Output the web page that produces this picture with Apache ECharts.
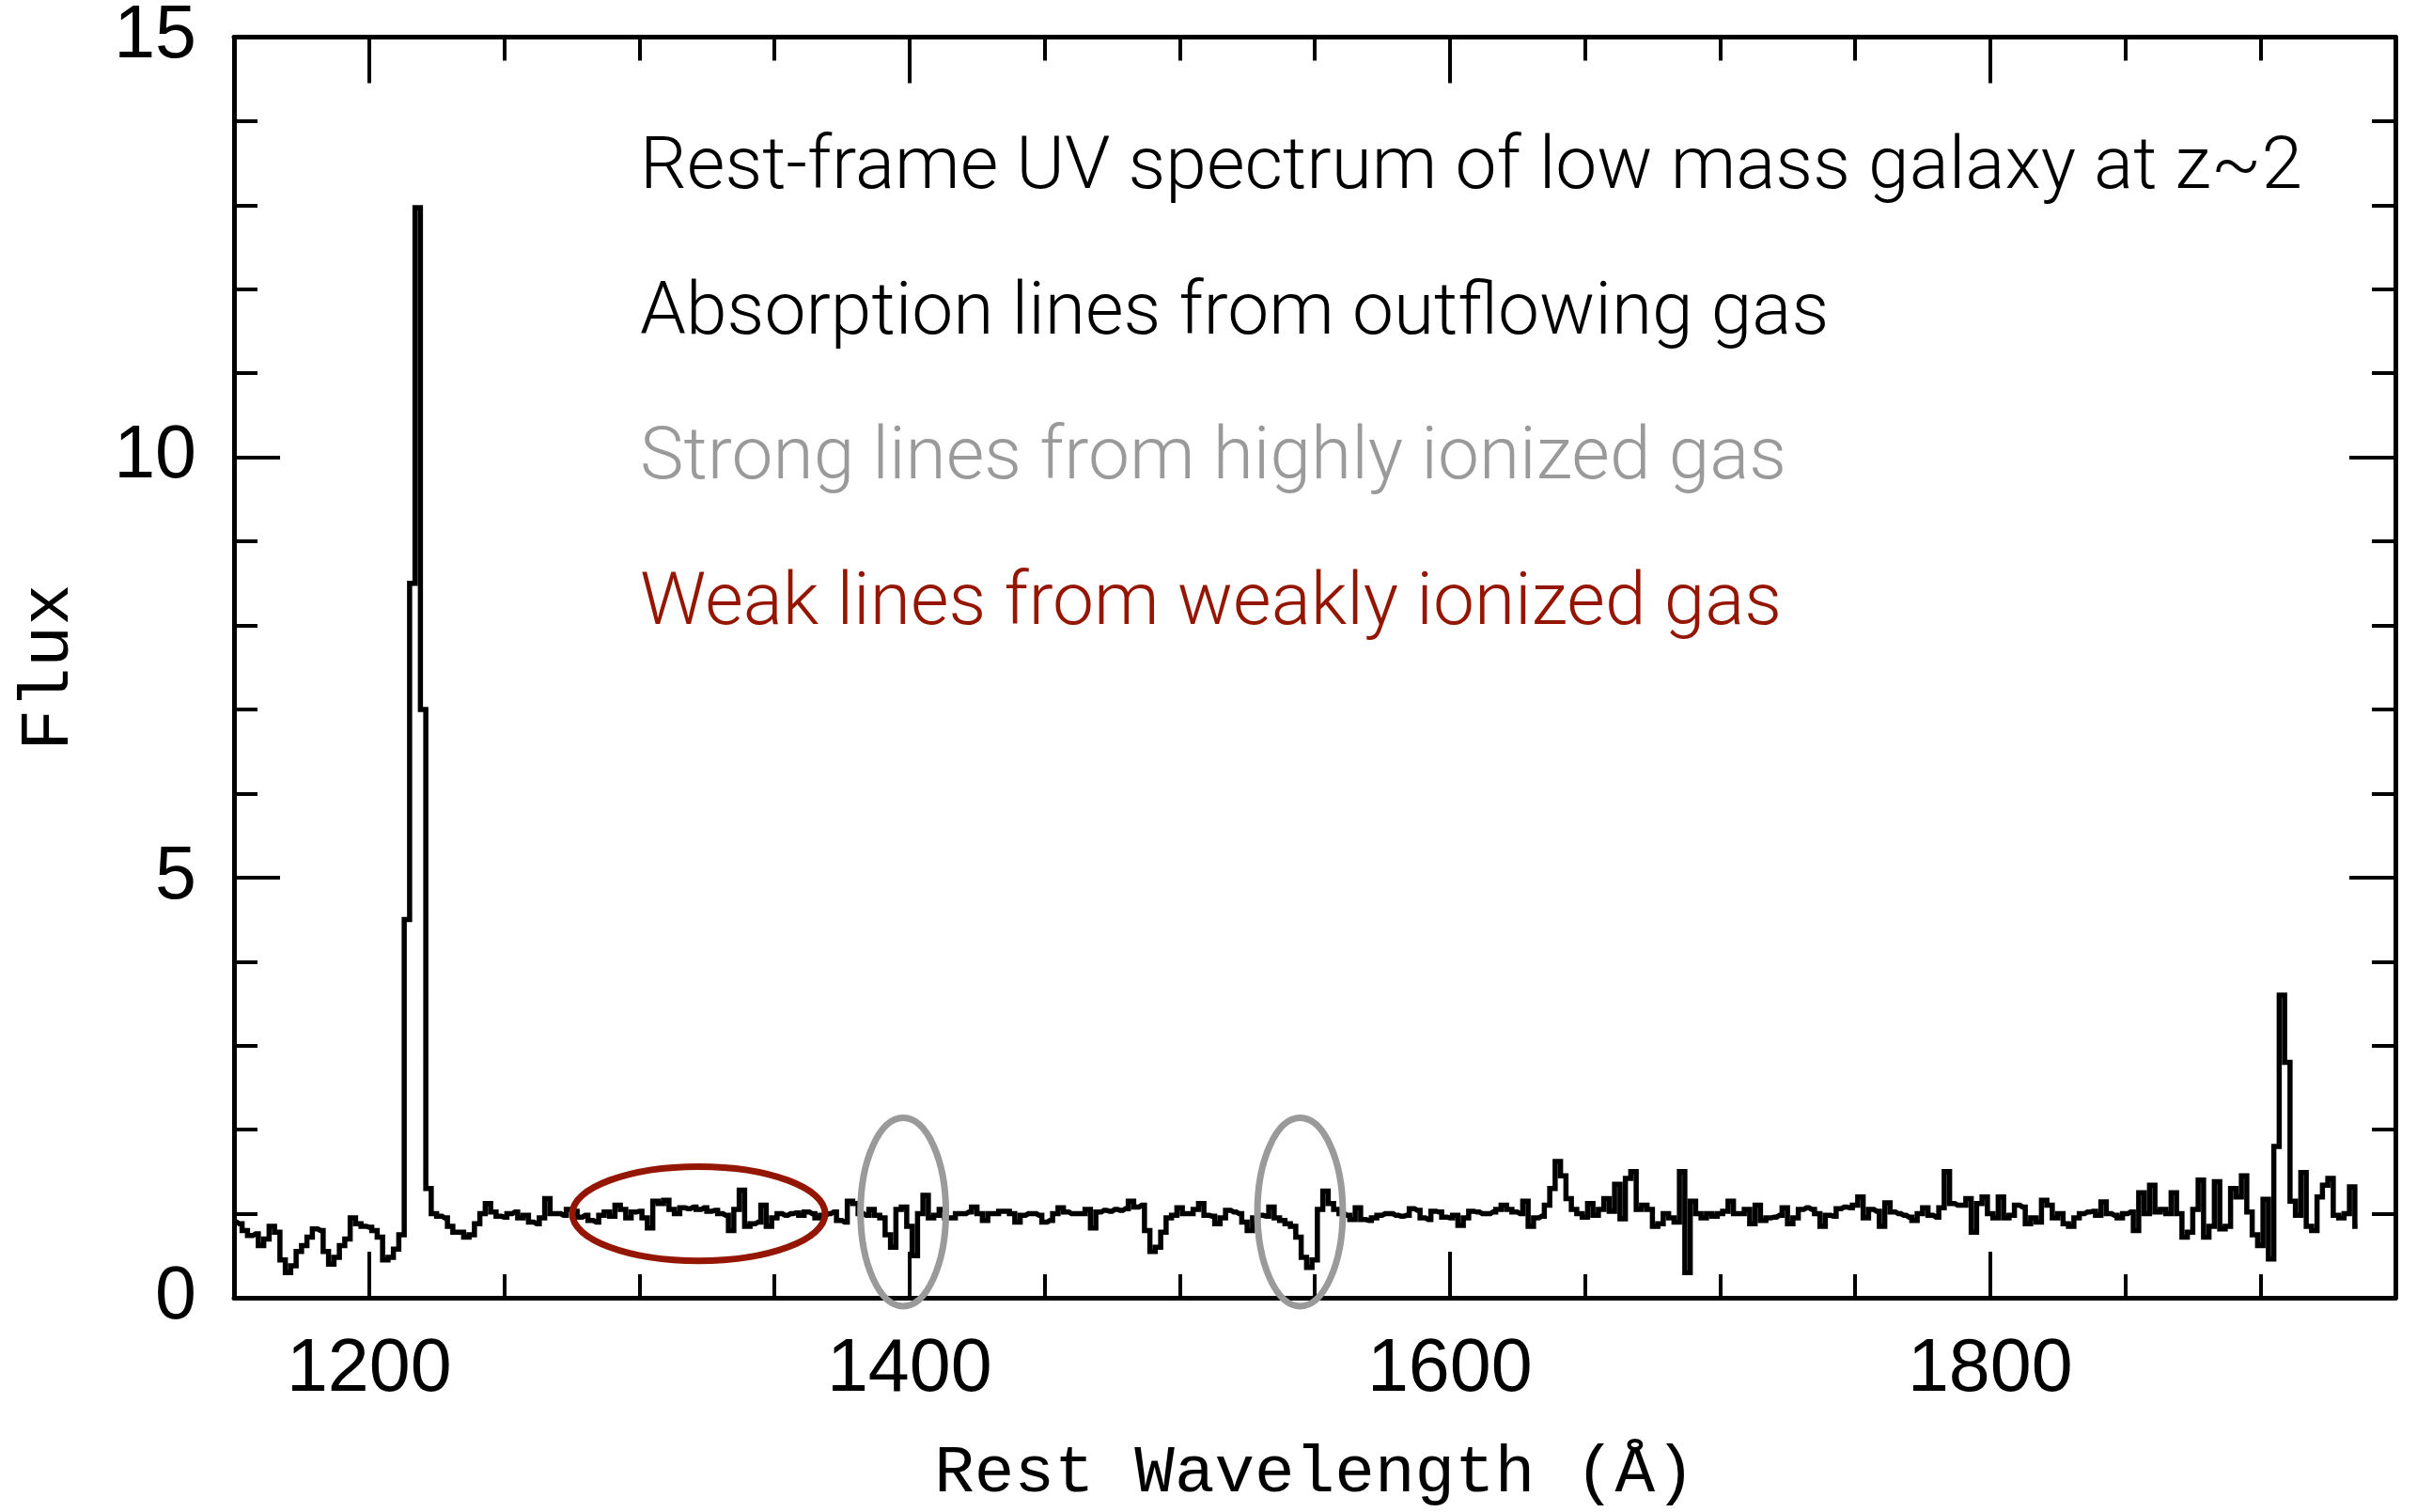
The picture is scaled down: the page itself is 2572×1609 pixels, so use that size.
<!DOCTYPE html>
<html>
<head>
<meta charset="utf-8">
<style>
html,body{margin:0;padding:0;background:#ffffff;}
#chart{width:2572px;height:1609px;}
</style>
<script src="https://cdn.jsdelivr.net/npm/echarts@6/dist/echarts.min.js"></script>
</head>
<body>
<div id="chart"></div>
<script>
// ---- data ----
const waveStart = 1150;   // first wavelength sample (Å)
const waveStep = 2;       // sampling (Å)
const fluxSegA = [ // 1150 - 1298
  0.90,0.88,0.80,0.74,0.76,0.62,0.70,0.85,0.78,0.45,
  0.30,0.38,0.55,0.62,0.72,0.82,0.80,0.55,0.40,0.48,
  0.62,0.70,0.95,0.88,0.85,0.84,0.80,0.72,0.45,0.48,
  0.58,0.75,4.5,8.5,12.97,7.0,1.3,1.0,0.97,0.95,
  0.85,0.78,0.78,0.72,0.75,0.88,1.0,1.12,1.02,0.97,
  0.96,1.0,1.02,0.95,0.98,0.90,0.88,0.95,1.18,1.0,
  1.0,0.98,1.05,1.03,0.96,0.98,0.92,0.90,0.98,1.02,
  0.97,1.10,1.05,0.95,1.02
];
const fluxSegB = [ // 1300 - 1498
  1.03,0.95,0.83,1.15,1.12,1.16,1.05,1.0,1.07,1.06,
  1.08,1.05,1.07,1.03,1.04,1.0,0.98,0.80,1.05,1.28,
  0.85,0.88,0.90,1.10,0.85,0.95,1.0,0.98,1.0,1.01,
  0.98,1.02,1.0,0.95,0.98,1.0,1.02,0.92,0.90,1.15,
  1.12,1.0,0.98,1.05,0.98,0.95,0.75,0.60,1.05,1.08,
  0.85,0.50,1.0,1.22,0.95,0.98,1.05,0.95,0.95,1.0,
  1.0,1.02,1.08,1.0,0.92,1.0,1.0,1.03,1.03,1.0,
  0.90,0.98,1.0,1.0,0.98,0.90,0.92,1.0,1.07,1.02,
  1.0,1.0,1.0,1.05,0.83,1.02,1.04,1.03,1.05,1.04,
  1.06,1.15,1.08,1.10,0.80,0.55,0.60,0.78,0.95,0.98
];
const fluxSegC = [ // 1500 - 1698
  1.07,1.0,1.0,1.05,1.12,0.98,0.97,0.88,0.95,1.04,
  1.02,1.0,0.90,0.80,0.95,0.98,0.97,1.08,0.95,0.92,
  0.88,0.85,0.72,0.48,0.36,0.45,1.05,1.27,1.12,1.05,
  1.0,0.98,0.93,1.07,0.93,0.92,0.95,0.98,1.0,1.0,
  0.98,0.97,0.98,1.06,1.04,0.95,0.93,1.03,1.02,0.96,
  0.95,0.98,0.86,0.95,1.03,1.02,1.0,1.0,1.02,1.05,
  1.10,1.05,1.02,1.0,1.15,0.85,0.95,0.97,1.10,1.30,
  1.62,1.45,1.18,1.05,1.0,0.96,1.12,0.98,1.05,1.18,
  1.03,1.35,0.94,1.42,1.50,1.05,1.10,1.05,0.85,0.88,
  1.0,0.95,0.90,1.50,0.30,1.15,1.0,0.95,1.0,0.97
];
const fluxSegD = [ // 1700 - 1936
  1.0,1.03,1.15,1.0,1.0,1.05,0.88,1.10,0.92,0.95,
  0.96,0.98,1.07,0.88,0.95,1.05,1.07,1.05,1.0,0.85,
  0.98,0.97,1.06,1.08,1.07,1.10,1.20,0.95,1.05,1.03,
  0.85,1.13,1.02,1.0,0.98,0.96,0.92,1.0,1.07,0.98,
  0.96,1.07,1.50,1.12,1.10,1.10,1.18,0.78,1.12,1.20,
  1.0,0.95,1.20,0.95,0.98,1.10,1.08,0.88,0.95,0.90,
  1.16,1.10,0.95,1.0,0.88,0.85,0.95,1.0,1.02,1.03,
  0.98,1.14,1.0,0.98,0.95,1.0,1.02,0.80,1.25,1.0,
  1.34,1.02,1.05,1.0,1.25,1.0,0.72,0.78,1.05,1.40,
  0.72,0.85,1.38,0.82,0.85,1.30,1.20,1.45,1.02,0.75,
  0.62,1.17,0.46,1.80,3.60,2.80,1.15,0.98,1.49,0.85,
  0.80,1.20,1.34,1.42,0.98,0.95,1.0,1.32,0.85
];
const xMajorTicks = [1200, 1400, 1600, 1800];
const xMinorTicks = [1150,1200,1250,1300,1350,1400,1450,1500,1550,1600,1650,1700,1750,1800,1850,1900,1950];
const yLabelValues = [0, 5, 10, 15];
const annotationLines = [
  'Rest-frame UV spectrum of low mass galaxy at z~2',
  'Absorption lines from outflowing gas',
  'Strong lines from highly ionized gas',
  'Weak lines from weakly ionized gas'
];
// highlighted line regions: [centre wavelength, centre flux, half-width (Å), half-height (flux)]
const weakRegions = [[1322, 1.0, 46.8, 0.56]];
const strongRegions = [[1397.7, 1.02, 15.8, 1.12], [1544.6, 1.02, 15.8, 1.12]];

// ---- build ----
const flux = fluxSegA.concat(fluxSegB, fluxSegC, fluxSegD);
const spectrum = flux.map((f, i) => [waveStart + waveStep * i, f]);

const RED = '#951600';
const GRAY = '#9a9a9a';
const tickFont = 'Liberation Sans';
const titleFont = 'Liberation Mono';

const chart = echarts.init(document.getElementById('chart'), null, {renderer: 'canvas'});

function plain(v) { return String(v); }

function xAx(pos, major, withLine, withLabel) {
  return {
    type: 'value', min: 1150, max: 1950, position: pos, gridIndex: 0,
    axisLine: {show: withLine, onZero: false, lineStyle: {color: '#000', width: 5}},
    axisTick: {show: true, inside: true, length: major ? 49 : 25,
      customValues: major ? xMajorTicks : xMinorTicks,
      lineStyle: {color: '#000', width: 4}},
    axisLabel: withLabel ? {show: true, customValues: xMajorTicks, color: '#000',
      fontFamily: tickFont, fontSize: 79, margin: 38, formatter: plain} : {show: false},
    splitLine: {show: false}
  };
}
function yAx(pos, withLabel) {
  return {
    type: 'value', min: 0, max: 15, interval: 5, position: pos, gridIndex: 0,
    axisLine: {show: true, onZero: false, lineStyle: {color: '#000', width: 5}},
    axisTick: {show: true, inside: true, length: 49, lineStyle: {color: '#000', width: 4}},
    minorTick: {show: true, splitNumber: 5, length: 25, lineStyle: {color: '#000', width: 4}},
    axisLabel: withLabel ? {show: true, color: '#000', fontFamily: tickFont, fontSize: 79, margin: 40,
      customValues: yLabelValues, formatter: plain} : {show: false},
    splitLine: {show: false},
    minorSplitLine: {show: false}
  };
}

const xMain = xAx('bottom', true, true, true);
xMain.name = 'Rest Wavelength (Å)';
xMain.nameLocation = 'middle';
xMain.nameGap = 152;
xMain.nameTextStyle = {color: '#000', fontFamily: titleFont, fontSize: 71};
const yMain = yAx('left', true);
yMain.name = 'Flux';
yMain.nameLocation = 'middle';
yMain.nameGap = 160;
yMain.nameTextStyle = {color: '#000', fontFamily: titleFont, fontSize: 74};

const option = {
  animation: false,
  backgroundColor: '#ffffff',
  grid: {left: 249, right: 23, top: 39, bottom: 216, containLabel: false},
  xAxis: [xMain, xAx('bottom', false, false, false), xAx('top', true, true, false), xAx('top', false, false, false)],
  yAxis: [yMain, yAx('right', false)],
  series: [{
    type: 'line', xAxisIndex: 0, yAxisIndex: 0,
    data: spectrum, step: 'middle', showSymbol: false, symbol: 'none',
    lineStyle: {color: '#000', width: 5.5, join: 'miter'},
    z: 2, silent: true
  }]
};
chart.setOption(option);

function px(pt) { return chart.convertToPixel({gridIndex: 0}, pt); }
const graphics = [];
function addEllipse(r, color) {
  const c = px([r[0], r[1]]);
  const ex = px([r[0] + r[2], r[1]]);
  const ey = px([r[0], r[1] + r[3]]);
  graphics.push({
    type: 'ellipse', z: 100,
    shape: {cx: c[0], cy: c[1], rx: Math.abs(ex[0] - c[0]), ry: Math.abs(c[1] - ey[1])},
    style: {fill: 'none', stroke: color, lineWidth: 7}
  });
}
weakRegions.forEach(r => addEllipse(r, RED));
strongRegions.forEach(r => addEllipse(r, GRAY));

const textColors = ['#000000', '#000000', GRAY, RED];
const textY = [180, 335, 489, 644];
annotationLines.forEach((t, i) => {
  graphics.push({
    type: 'text', z: 100, x: 681, y: textY[i],
    style: {text: t, fill: textColors[i], fontFamily: 'Roboto', fontWeight: 300, fontSize: 78.5,
      align: 'left', verticalAlign: 'middle', textAlign: 'left', textVerticalAlign: 'middle'}
  });
});
chart.setOption({graphic: graphics});
</script>
</body>
</html>
